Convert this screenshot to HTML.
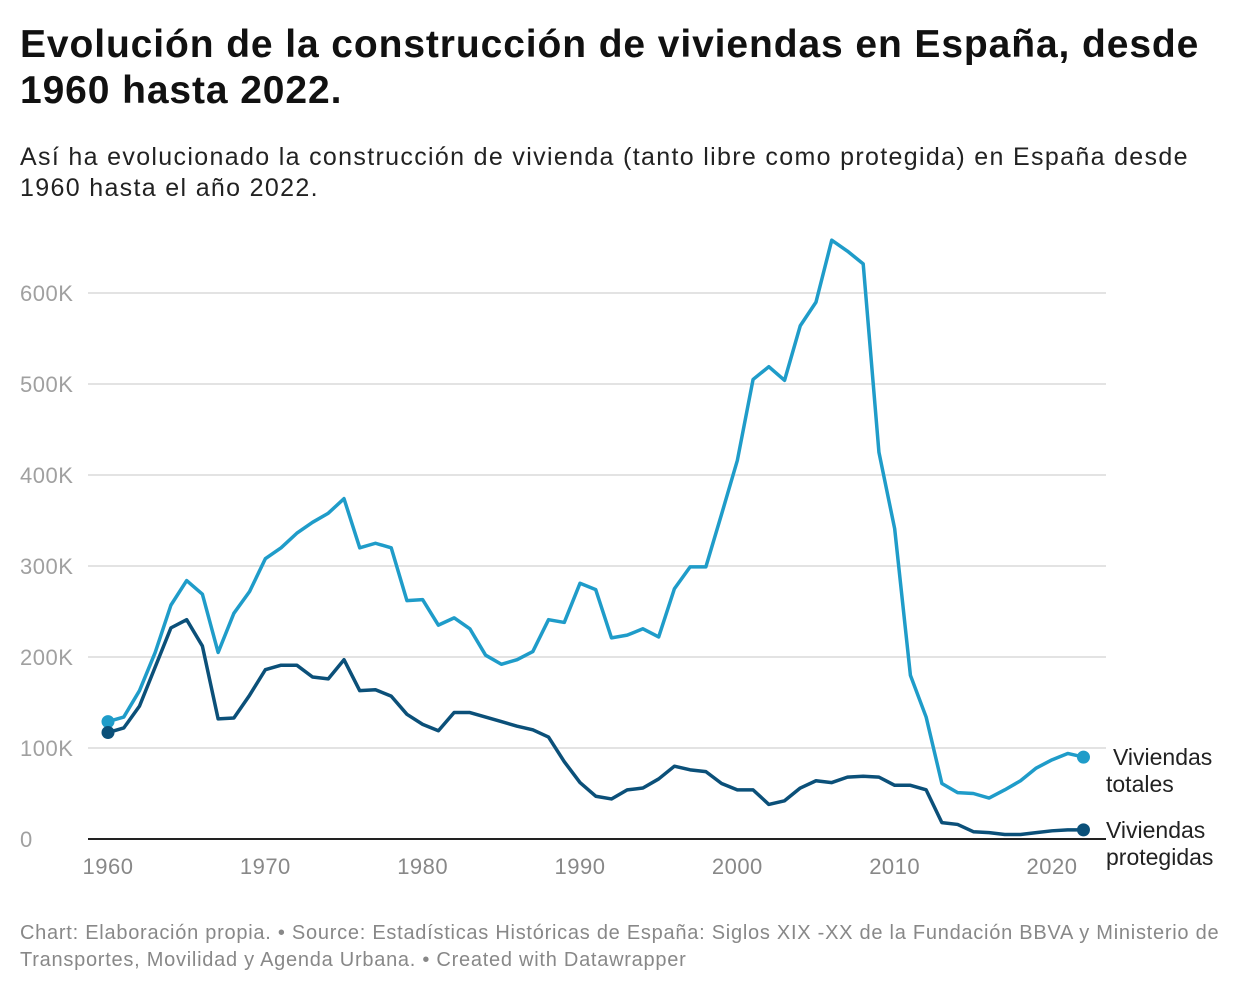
<!DOCTYPE html>
<html><head><meta charset="utf-8"><style>
body{margin:0;background:#fff;font-family:"Liberation Sans",sans-serif;}
#wrap{position:relative;width:1240px;height:992px;overflow:hidden}
h1{position:absolute;left:20px;top:22px;margin:0;font-size:39px;line-height:46px;font-weight:bold;color:#111;white-space:nowrap;letter-spacing:0.9px}
.sub{position:absolute;left:20px;top:142px;font-size:25px;line-height:31px;color:#222;white-space:nowrap;letter-spacing:1.33px}
.foot{position:absolute;left:20px;top:920px;font-size:20px;line-height:27px;color:#888;white-space:nowrap;letter-spacing:0.74px}
svg{position:absolute;left:0;top:0}
</style></head><body><div id="wrap">
<h1>Evolución de la construcción de viviendas en España, desde<br>1960 hasta 2022.</h1>
<div class="sub">Así ha evolucionado la construcción de vivienda (tanto libre como protegida) en España desde<br>1960 hasta el año 2022.</div>
<svg id="chart" width="1240" height="992"></svg>
<div class="foot">Chart: Elaboración propia. • Source: Estadísticas Históricas de España: Siglos XIX -XX de la Fundación BBVA y Ministerio de<br>Transportes, Movilidad y Agenda Urbana. • Created with Datawrapper</div>
</div>
<script>
const years=[];for(let y=1960;y<=2022;y++)years.push(y);
const totales=[129,134,163,205,257,284,269,205,248,272,308,320,336,348,358,374,320,325,320,262,263,235,243,231,202,192,197,206,241,238,281,274,221,224,231,222,275,299,299,357,416,505,519,504,564,590,658,646,632,425,341,180,134,61,51,50,45,54,64,78,87,94,90];
const protegidas=[117,122,146,189,232,241,212,132,133,158,186,191,191,178,176,197,163,164,157,137,126,119,139,139,134,129,124,120,112,85,62,47,44,54,56,66,80,76,74,61,54,54,38,42,56,64,62,68,69,68,59,59,54,18,16,8,7,5,5,7,9,10,10];
const yTicks=[0,100,200,300,400,500,600];
const yTickLabels=["0","100K","200K","300K","400K","500K","600K"];
const xTicks=[1960,1970,1980,1990,2000,2010,2020];
const NS="http://www.w3.org/2000/svg";
const svg=document.getElementById('chart');
const X=y=>108+(y-1960)*(1052-108)/60;
const Y=v=>839-v*(839-293)/600;
function el(t,a){const e=document.createElementNS(NS,t);for(const k in a)e.setAttribute(k,a[k]);svg.appendChild(e);return e;}
yTicks.forEach((v,i)=>{
 if(v>0){const l=el('line',{x1:88,x2:1106,y1:Y(v),y2:Y(v),stroke:'#e3e3e3','stroke-width':2});
 
 }
 const t=el('text',{x:20,y:Y(v)+8,'font-size':22,fill:'#a0a0a0','letter-spacing':0.5});t.textContent=yTickLabels[i];
 
 
});
const base=el('line',{x1:88,x2:1106,y1:Y(0),y2:Y(0),stroke:'#222','stroke-width':2});


xTicks.forEach(yr=>{const t=el('text',{x:X(yr),y:874,'font-size':22,fill:'#888','text-anchor':'middle','letter-spacing':0.5});t.textContent=yr;
 
 });
function series(vals,color,name){
 const p=el('polyline',{points:vals.map((v,i)=>X(years[i])+','+Y(v)).join(' '),fill:'none',stroke:color,'stroke-width':3.5,'stroke-linejoin':'round'});
 
 
 [0,vals.length-1].forEach(i=>{const c=el('circle',{cx:X(years[i]),cy:Y(vals[i]),r:6.5,fill:color});
  
  });
}
series(totales,'#1f9cc9','viviendas-totales');
series(protegidas,'#0b5079','viviendas-protegidas');
function label(lines,xs,y,name){const t=el('text',{x:xs[0],y:y,'font-size':23,fill:'#222'});
 
 
 lines.forEach((s,i)=>{const ts=document.createElementNS(NS,'tspan');ts.setAttribute('x',xs[i]);ts.setAttribute('dy',i?27:0);ts.textContent=s;t.appendChild(ts);});}
label(['Viviendas','totales'],[1113,1106],Y(totales[totales.length-1])+8,'label-totales');
label(['Viviendas','protegidas'],[1106,1106],Y(protegidas[protegidas.length-1])+8,'label-protegidas');
</script></body></html>
